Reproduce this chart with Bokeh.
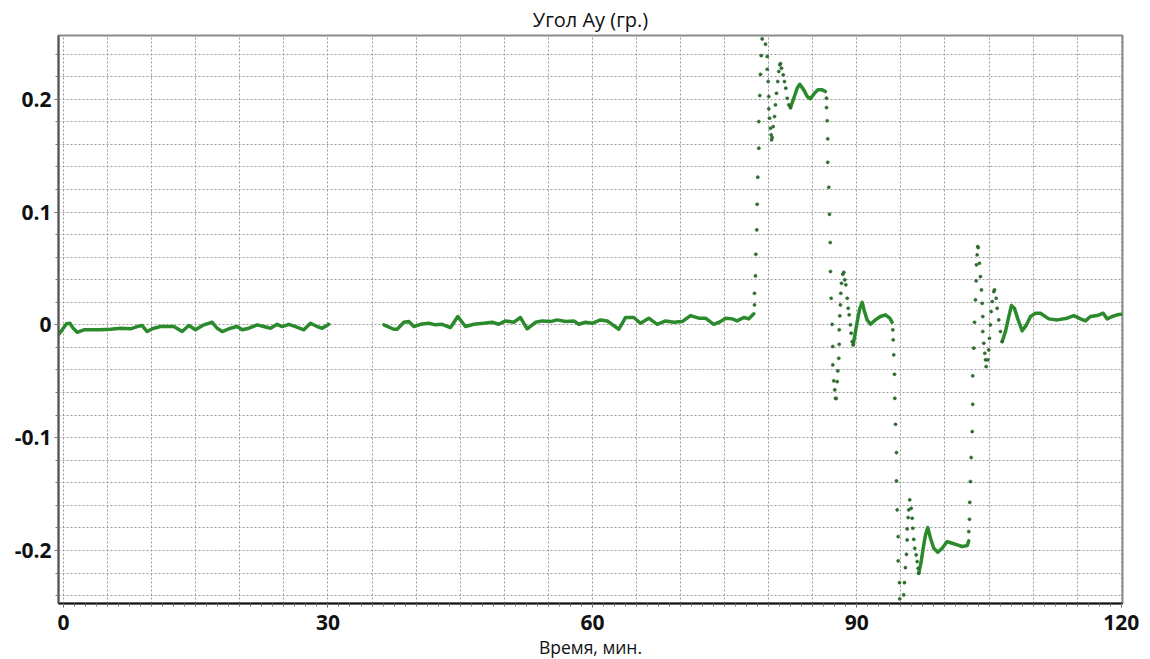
import numpy as np
from bokeh.plotting import figure
from bokeh.models import Range1d, FixedTicker, SingleIntervalTicker, Title
from bokeh.embed import file_html
from bokeh.resources import INLINE

# ---------------- data (time in minutes, angle Ay in degrees) ----------------
t_seg1 = [-0.53, -0.15, 0.34, 0.72, 1.10, 1.55, 2.31, 3.06, 4.20, 5.33, 6.47, 7.60, 8.36, 8.93,
          9.49, 10.06, 11.0, 11.76, 12.51, 13.46, 14.21, 14.97, 15.92, 16.87, 17.43, 18.0, 18.95,
          19.70, 20.27, 21.03, 21.97, 22.72, 23.48, 24.24, 24.81, 25.56, 26.32, 27.26, 28.02,
          28.78, 29.35, 30.10]
v_seg1 = [-0.0083, -0.0044, 0.0009, 0.0014, -0.003, -0.0066, -0.0044, -0.0044, -0.0044, -0.0039,
          -0.003, -0.0035, -0.0015, -0.0006, -0.0059, -0.0035, -0.0015, -0.0015, -0.0015, -0.0059,
          -0.0006, -0.0044, 0.0, 0.0023, -0.003, -0.0059, -0.003, -0.0015, -0.0044, -0.003, 0.0,
          -0.0015, -0.003, 0.0005, -0.0015, 0.0005, -0.0015, -0.0044, 0.0014, -0.0015, -0.003, 0.0005]

t_seg2 = [36.34, 37.47, 37.85, 38.61, 39.17, 39.74, 40.50, 41.44, 42.20, 42.96, 43.90, 44.73, 45.60,
          46.55, 47.68, 48.63, 49.38, 50.14, 51.08, 51.84, 52.60, 53.55, 54.30, 55.25, 56.0, 56.95,
          57.89, 58.46, 59.22, 59.97, 60.92, 61.68, 63.0, 63.75, 64.70, 65.46, 66.40, 67.35, 68.29,
          69.24, 70.19, 71.13, 72.07, 72.83, 73.77, 74.53, 75.10, 75.86, 76.42, 77.18, 77.74, 78.31]
v_seg2 = [0.0, -0.0039, -0.0039, 0.0023, 0.0029, -0.0015, 0.0005, 0.0014, 0.0, 0.0005, -0.0024,
          0.0074, -0.0015, 0.0005, 0.0014, 0.0023, 0.0005, 0.0035, 0.0023, 0.0065, -0.0035, 0.0023,
          0.0035, 0.0029, 0.0044, 0.0029, 0.0035, 0.0005, 0.0023, 0.0014, 0.0044, 0.0035, -0.0039,
          0.0065, 0.0065, 0.0014, 0.0059, 0.0005, 0.0035, 0.0023, 0.0029, 0.0082, 0.0059, 0.0059,
          0.0005, 0.0029, 0.0059, 0.0053, 0.0035, 0.0065, 0.0053, 0.0098]

t_seg3 = [82.47, 82.85, 83.23, 83.53, 83.98, 84.37, 84.74, 85.20, 85.57, 86.07, 86.44]
v_seg3 = [0.1926, 0.2009, 0.2098, 0.2133, 0.2083, 0.2024, 0.2004, 0.2053, 0.2083, 0.2083, 0.2068]

t_seg4 = [89.59, 89.85, 90.11, 90.34, 90.61, 90.87, 91.17, 91.55, 92.11, 92.68, 93.25, 93.74, 94.01]
v_seg4 = [-0.0177, -0.0059, 0.0059, 0.0147, 0.02, 0.0118, 0.0044, 0.0005, 0.0044, 0.0074, 0.0089,
          0.0059, 0.0023]

t_seg5 = [97.03, 97.30, 97.53, 97.79, 98.05, 98.36, 98.73, 99.18, 99.68, 100.25, 100.82, 101.38,
          101.95, 102.52, 102.70]
v_seg5 = [-0.2202, -0.2098, -0.198, -0.1862, -0.1797, -0.1892, -0.198, -0.2016, -0.198, -0.1921,
          -0.1936, -0.195, -0.1965, -0.1957, -0.1915]

t_seg6 = [106.49, 106.86, 107.24, 107.54, 107.88, 108.26, 108.76, 109.25, 109.70, 110.27, 110.83,
          111.78, 112.73, 113.86, 114.61, 115.37, 115.94, 116.50, 117.27, 117.95, 118.40, 118.97,
          119.53, 119.99]
v_seg6 = [-0.0148, -0.0059, 0.0074, 0.0171, 0.0147, 0.0053, -0.0053, 0.0, 0.0074, 0.0103, 0.0103,
          0.0053, 0.0044, 0.0059, 0.0082, 0.0053, 0.0035, 0.0074, 0.0082, 0.0103, 0.0053, 0.0074,
          0.0089, 0.0094]

# fast transitions: individual samples visible as dots
t_dots1 = [78.39, 78.39, 78.50, 78.54, 78.65, 78.69, 78.76, 78.88, 78.88, 78.99, 79.07, 79.15, 79.26,
           79.64, 79.83, 79.83, 79.94, 80.01, 80.01, 80.09, 80.20, 80.28, 80.32, 80.40, 80.51, 80.66,
           80.77, 80.88, 81.03, 81.15, 81.26, 81.34, 81.45, 81.65, 81.79, 81.94, 82.10, 82.28, 82.47]
v_dots1 = [0.0177, 0.028, 0.0434, 0.0626, 0.0842, 0.1069, 0.1309, 0.1566, 0.1802, 0.2033, 0.222,
           0.2387, 0.2535, 0.2488, 0.2379, 0.2266, 0.2157, 0.2024, 0.1915, 0.1832, 0.1743, 0.1684,
           0.164, 0.166, 0.1758, 0.1847, 0.195, 0.2053, 0.2157, 0.2246, 0.2305, 0.2316, 0.2275,
           0.2216, 0.2157, 0.2098, 0.2009, 0.195, 0.1926]

t_dots2 = [86.56, 86.56, 86.64, 86.70, 86.70, 86.82, 86.90, 86.98, 87.01, 87.09, 87.20, 87.27, 87.27,
           87.38, 87.50, 87.58, 87.66, 87.77, 87.84, 87.95, 88.00, 88.00, 88.07, 88.14, 88.18, 88.26,
           88.41, 88.52, 88.63, 88.75, 88.91, 89.02, 89.13, 89.28, 89.36, 89.47, 89.59]
v_dots2 = [0.2009, 0.1926, 0.1809, 0.1649, 0.1441, 0.122, 0.098, 0.073, 0.0473, 0.0236, 0.0005,
           -0.0192, -0.0355, -0.0496, -0.0576, -0.0651, -0.0653, -0.0503, -0.0408, -0.0296, -0.0172,
           -0.0044, 0.008, 0.0177, 0.028, 0.0369, 0.0449, 0.0466, 0.0399, 0.0355, 0.0236, 0.0147,
           0.0089, 0.0, -0.0074, -0.0148, -0.0177]

t_dots3 = [94.08, 94.13, 94.19, 94.27, 94.31, 94.39, 94.50, 94.50, 94.58, 94.69, 94.69, 94.84, 94.87,
           95.32, 95.40, 95.51, 95.63, 95.71, 95.71, 95.82, 95.89, 96.00, 96.17, 96.28, 96.35, 96.46,
           96.57, 96.73, 96.85, 96.96, 97.03]
v_dots3 = [-0.0044, -0.0133, -0.0266, -0.0438, -0.0651, -0.0881, -0.1132, -0.1383, -0.164, -0.1877,
           -0.2092, -0.2285, -0.2429, -0.2394, -0.2285, -0.2152, -0.2034, -0.1906, -0.1809, -0.1708,
           -0.164, -0.1551, -0.1626, -0.1714, -0.1803, -0.1901, -0.1981, -0.2039, -0.2098, -0.2158,
           -0.2202]

t_dots4 = [102.70, 102.78, 102.81, 102.89, 102.97, 103.09, 103.15, 103.15, 103.27, 103.35, 103.46,
           103.54, 103.57, 103.65, 103.72, 103.77, 103.91, 104.02, 104.14, 104.22, 104.29, 104.29,
           104.40, 104.52, 104.60, 104.67, 104.86, 104.97, 105.05, 105.16, 105.24, 105.36, 105.54,
           105.62, 105.81, 105.92, 106.10, 106.30, 106.49]
v_dots4 = [-0.1832, -0.1723, -0.1573, -0.1389, -0.1176, -0.0946, -0.0704, -0.0452, -0.0207, 0.0023,
           0.0222, 0.039, 0.0532, 0.0621, 0.0694, 0.0685, 0.0546, 0.0428, 0.031, 0.0191, 0.0074,
           -0.0059, -0.0163, -0.0252, -0.031, -0.037, -0.031, -0.0222, -0.0119, 0.0, 0.0118, 0.0207,
           0.0295, 0.031, 0.0236, 0.0147, 0.0044, -0.0059, -0.0148]

x_major = [0, 30, 60, 90, 120]
y_major = [-0.2, -0.1, 0.0, 0.1, 0.2]
y_labels = ["-0.2", "-0.1", "0", "0.1", "0.2"]

TITLE = "Угол Ay (гр.)"
XLABEL = "Время, мин."

# ---------------- figure ----------------
LINE_C = "#2b8a2b"
DOT_C = "#2f6a2f"
FONT = "Open Sans"

p = figure(frame_width=1064, frame_height=568,
           x_range=Range1d(-0.57, 120.14), y_range=Range1d(-0.247, 0.2565),
           output_backend="svg", toolbar_location=None,
           min_border_left=58, min_border_right=26, min_border_top=0, min_border_bottom=0)
p.background_fill_color = "white"
p.border_fill_color = "white"
p.outline_line_color = "#8a8a8a"
p.outline_line_width = 2

p.title.text = TITLE
p.title.align = "center"
p.title.text_font = FONT
p.title.text_font_size = "20px"
p.title.text_font_style = "normal"
p.title.text_color = "#111111"
p.title.offset = -15
p.title.standoff = 6

# axes
p.xaxis.ticker = FixedTicker(ticks=x_major, minor_ticks=list(np.arange(0, 120.01, 1.25)))
p.yaxis.ticker = FixedTicker(ticks=y_major, minor_ticks=list(np.round(np.arange(-0.24, 0.26, 0.02), 2)))
p.yaxis.major_label_overrides = {v: s for v, s in zip(y_major, y_labels)}
for ax in (p.xaxis[0], p.yaxis[0]):
    ax.major_label_text_font = FONT
    ax.major_label_text_font_size = "21px"
    ax.major_label_text_font_style = "bold"
    ax.major_label_text_color = "#111111"
    ax.major_tick_out = 4
    ax.major_tick_in = 0
    ax.minor_tick_out = 3
    ax.minor_tick_in = 0
    ax.axis_line_width = 2
p.xaxis.axis_line_color = "#111111"
p.yaxis.axis_line_color = "#555555"
p.xaxis.major_tick_line_color = "#555555"
p.xaxis.minor_tick_line_color = "#777777"
p.yaxis.major_tick_line_color = "#777777"
p.yaxis.minor_tick_line_color = "#777777"
p.xaxis.major_label_standoff = 7
p.yaxis.major_label_standoff = 3

# grid
p.xgrid.ticker = SingleIntervalTicker(interval=5)
p.ygrid.ticker = FixedTicker(ticks=list(np.round(np.arange(-0.24, 0.26, 0.02), 2)))
for g in (p.xgrid[0], p.ygrid[0]):
    g.grid_line_color = "#9a9a9a"
    g.grid_line_dash = "2 2"
    g.grid_line_width = 1

# x axis label as a title below (to allow a horizontal offset)
p.add_layout(Title(text=XLABEL, align="center", text_font=FONT, text_font_size="17.5px",
                   text_font_style="normal", text_color="#111111", offset=-9, standoff=0), "below")

# data
for t, v in ((t_seg1, v_seg1), (t_seg2, v_seg2), (t_seg3, v_seg3),
             (t_seg4, v_seg4), (t_seg5, v_seg5), (t_seg6, v_seg6)):
    p.line(t, v, line_color=LINE_C, line_width=3.5, line_join="round", line_cap="round")

for t, v in ((t_dots1, v_dots1), (t_dots2, v_dots2), (t_dots3, v_dots3), (t_dots4, v_dots4)):
    p.scatter(t, v, size=3.2, fill_color=DOT_C, line_color=DOT_C, line_width=0.5)

open("out.html", "w").write(file_html(p, INLINE))
